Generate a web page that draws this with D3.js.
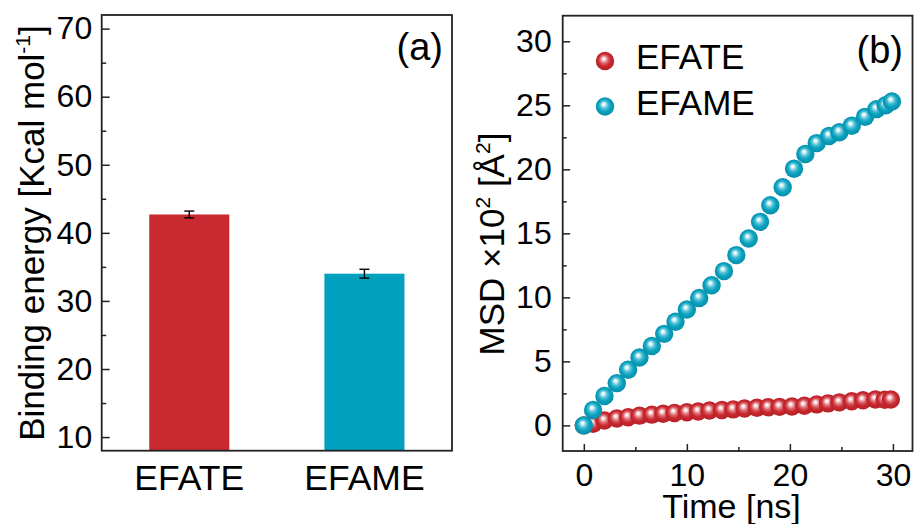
<!DOCTYPE html>
<html><head><meta charset="utf-8">
<script src="https://cdn.jsdelivr.net/npm/d3@7"></script>
<style>
body{margin:0;background:#fff}
svg{display:block}
text{font-family:"Liberation Sans",Arial,sans-serif;fill:#000}
</style>
</head><body>
<svg id="c" width="914" height="524"></svg>
<script>
// ---- data ----
const categories = ["EFATE", "EFAME"];
const bindingEnergy = [42.7, 34.0];
const bindingError = [0.5, 0.65];
const energyTicks = [10, 20, 30, 40, 50, 60, 70];
const energyMinorTicks = [15, 25, 35, 45, 55, 65];

const efateTime = [0, 0.9, 2.0, 3.2, 4.3, 5.4, 6.6, 7.7, 8.8, 10.0, 11.1, 12.2, 13.4, 14.5, 15.6, 16.8, 17.9, 19.0, 20.2, 21.4, 22.6, 23.7, 24.8, 26.0, 27.1, 28.3, 29.2, 29.8];
const efateMSD  = [0, 0.12, 0.38, 0.54, 0.64, 0.76, 0.84, 0.91, 0.97, 1.03, 1.08, 1.16, 1.2, 1.25, 1.32, 1.38, 1.42, 1.45, 1.48, 1.54, 1.64, 1.72, 1.8, 1.88, 1.96, 2.02, 2.0, 2.02];
const efameTime = [0, 0.9, 2.0, 3.2, 4.3, 5.4, 6.6, 7.8, 8.9, 10.0, 11.2, 12.4, 13.6, 14.8, 16.0, 17.1, 18.1, 19.3, 20.4, 21.5, 22.6, 23.8, 24.8, 26.0, 27.3, 28.4, 29.3, 29.9];
const efameMSD  = [0, 1.2, 2.3, 3.3, 4.35, 5.3, 6.2, 7.15, 8.1, 9.05, 9.95, 10.95, 12.05, 13.3, 14.6, 15.9, 17.2, 18.6, 20.05, 21.2, 22.05, 22.6, 22.9, 23.4, 24.1, 24.7, 25.0, 25.3];
const msdTicks = [0, 5, 10, 15, 20, 25, 30];
const msdMinorTicks = [2.5, 7.5, 12.5, 17.5, 22.5, 27.5];
const timeTicks = [0, 10, 20, 30];
const timeMinorTicks = [5, 15, 25];
const seriesNames = ["EFATE", "EFAME"];

const colors = {EFATE: "#c82a30", EFAME: "#02a0bf"};
const sphere = {
  EFATE: ["#ffffff", "#fbe9ea", "#dd6a70", "#c9282f", "#b01e25"],
  EFAME: ["#ffffff", "#e6f7fb", "#4dbfd5", "#0aa2bf", "#0589a3"]
};

const svg = d3.select("#c");
const frameColor = "#222";
const FF = '"Liberation Sans",Arial,sans-serif';

// gradients
const defs = svg.append("defs");
Object.keys(sphere).forEach(k => {
  const g = defs.append("radialGradient").attr("id", "g" + k)
    .attr("cx", 0.5).attr("cy", 0.5).attr("r", 0.55)
    .attr("fx", 0.42).attr("fy", 0.36);
  const offs = [0, 0.12, 0.38, 0.62, 1];
  sphere[k].forEach((c, i) => g.append("stop").attr("offset", offs[i]).attr("stop-color", c));
});

// ================= Panel (a) =================
const A = {l: 101.7, r: 452, t: 15, b: 450.7};
const xA = d3.scaleBand().domain(categories).range([A.l, A.r]).paddingInner(0.543).paddingOuter(0.2715);
const yA = d3.scaleLinear().domain([8, 72]).range([A.b, A.t]);

const gA = svg.append("g");
gA.selectAll("rect.bar").data(categories).join("rect").attr("class", "bar")
  .attr("x", d => xA(d)).attr("width", xA.bandwidth())
  .attr("y", (d, i) => yA(bindingEnergy[i]))
  .attr("height", (d, i) => yA(8) - yA(bindingEnergy[i]))
  .attr("fill", d => colors[d]);

// error bars
const eb = gA.selectAll("g.eb").data(categories).join("g").attr("class", "eb");
eb.append("line").attr("x1", d => xA(d) + xA.bandwidth() / 2).attr("x2", d => xA(d) + xA.bandwidth() / 2)
  .attr("y1", (d, i) => yA(bindingEnergy[i] + bindingError[i])).attr("y2", (d, i) => yA(bindingEnergy[i] - bindingError[i]))
  .attr("stroke", "#000").attr("stroke-width", 1.4);
[1, -1].forEach(s => {
  eb.append("line").attr("x1", d => xA(d) + xA.bandwidth() / 2 - 5).attr("x2", d => xA(d) + xA.bandwidth() / 2 + 5)
    .attr("y1", (d, i) => yA(bindingEnergy[i] + s * bindingError[i])).attr("y2", (d, i) => yA(bindingEnergy[i] + s * bindingError[i]))
    .attr("stroke", "#000").attr("stroke-width", 1.4);
});

// y axis (a)
const yAxA = gA.append("g").attr("transform", `translate(${A.l},0)`)
  .call(d3.axisLeft(yA).tickValues(energyTicks).tickSizeInner(-8).tickSizeOuter(0).tickPadding(9.5));
yAxA.select(".domain").remove();
yAxA.selectAll("line").attr("stroke", frameColor).attr("stroke-width", 1.5);
yAxA.selectAll("text").attr("font-size", 32).style("font-family", FF).attr("fill", "#000");
const yMinA = gA.append("g").attr("transform", `translate(${A.l},0)`)
  .call(d3.axisLeft(yA).tickValues(energyMinorTicks).tickSizeInner(-4.5).tickSizeOuter(0).tickFormat(""));
yMinA.select(".domain").remove();
yMinA.selectAll("line").attr("stroke", frameColor).attr("stroke-width", 1.5);

// x axis (a)
const xAxA = gA.append("g").attr("transform", `translate(0,${A.b})`)
  .call(d3.axisBottom(xA).tickSize(0).tickPadding(14));
xAxA.select(".domain").remove();
xAxA.selectAll("text").attr("font-size", 35.5).style("font-family", FF).attr("fill", "#000");

gA.append("rect").attr("x", A.l).attr("y", A.t).attr("width", A.r - A.l).attr("height", A.b - A.t)
  .attr("fill", "none").attr("stroke", frameColor).attr("stroke-width", 1.8);

gA.append("text").attr("x", 443).attr("y", 60).attr("text-anchor", "end").attr("font-size", 38).text("(a)");

const tA = gA.append("text").attr("transform", "translate(43.5,233) rotate(-90)")
  .attr("text-anchor", "middle").attr("font-size", 35);
tA.append("tspan").text("Binding energy [Kcal mol");
tA.append("tspan").attr("font-size", 21).attr("dy", -14).text("-1");
tA.append("tspan").attr("dy", 14).text("]");

// ================= Panel (b) =================
const B = {l: 562.7, r: 912.5, t: 15.7, b: 451};
const xB = d3.scaleLinear().domain([-2.05, 31.9]).range([B.l, B.r]);
const yB = d3.scaleLinear().domain([-2, 32]).range([B.b, B.t]);
const gB = svg.append("g");

const yAxB = gB.append("g").attr("transform", `translate(${B.l},0)`)
  .call(d3.axisLeft(yB).tickValues(msdTicks).tickSizeInner(-7.5).tickSizeOuter(0).tickPadding(11));
yAxB.select(".domain").remove();
yAxB.selectAll("line").attr("stroke", frameColor).attr("stroke-width", 1.5);
yAxB.selectAll("text").attr("font-size", 32).style("font-family", FF).attr("fill", "#000");
const yMinB = gB.append("g").attr("transform", `translate(${B.l},0)`)
  .call(d3.axisLeft(yB).tickValues(msdMinorTicks).tickSizeInner(-4).tickSizeOuter(0).tickFormat(""));
yMinB.select(".domain").remove();
yMinB.selectAll("line").attr("stroke", frameColor).attr("stroke-width", 1.5);

const xAxB = gB.append("g").attr("transform", `translate(0,${B.b})`)
  .call(d3.axisBottom(xB).tickValues(timeTicks).tickSizeInner(-7).tickSizeOuter(0).tickPadding(12));
xAxB.select(".domain").remove();
xAxB.selectAll("line").attr("stroke", frameColor).attr("stroke-width", 1.5);
xAxB.selectAll("text").attr("font-size", 32).style("font-family", FF).attr("fill", "#000");
const xMinB = gB.append("g").attr("transform", `translate(0,${B.b})`)
  .call(d3.axisBottom(xB).tickValues(timeMinorTicks).tickSizeInner(-4).tickSizeOuter(0).tickFormat(""));
xMinB.select(".domain").remove();
xMinB.selectAll("line").attr("stroke", frameColor).attr("stroke-width", 1.5);

// points
const R = 9.2;
const ptsA = efateTime.map((t, i) => ({t, v: efateMSD[i]}));
const ptsB = efameTime.map((t, i) => ({t, v: efameMSD[i]}));
gB.append("g").selectAll("circle").data(ptsA).join("circle")
  .attr("cx", d => xB(d.t)).attr("cy", d => yB(d.v)).attr("r", R).attr("fill", "url(#gEFATE)");
gB.append("g").selectAll("circle").data(ptsB).join("circle")
  .attr("cx", d => xB(d.t)).attr("cy", d => yB(d.v)).attr("r", R).attr("fill", "url(#gEFAME)");

gB.append("rect").attr("x", B.l).attr("y", B.t).attr("width", B.r - B.l).attr("height", B.b - B.t)
  .attr("fill", "none").attr("stroke", frameColor).attr("stroke-width", 1.8);

// legend
const lg = gB.append("g");
seriesNames.forEach((n, i) => {
  const cy = 61 + i * 45.5;
  lg.append("circle").attr("cx", 605).attr("cy", cy).attr("r", R).attr("fill", `url(#g${n})`);
  lg.append("text").attr("x", 636).attr("y", cy + 8).attr("font-size", 35).text(n);
});

gB.append("text").attr("x", 903).attr("y", 63).attr("text-anchor", "end").attr("font-size", 38).text("(b)");

const tB = gB.append("text").attr("transform", "translate(504,244) rotate(-90)")
  .attr("text-anchor", "middle").attr("font-size", 35);
tB.append("tspan").text("MSD \u00d710");
tB.append("tspan").attr("font-size", 21).attr("dy", -14).text("2");
tB.append("tspan").attr("dy", 14).text(" [\u00c5");
tB.append("tspan").attr("font-size", 21).attr("dy", -14).text("2");
tB.append("tspan").attr("dy", 14).text("]");

gB.append("text").attr("x", 731.5).attr("y", 518).attr("text-anchor", "middle").attr("font-size", 34).text("Time [ns]");
</script>
</body></html>
